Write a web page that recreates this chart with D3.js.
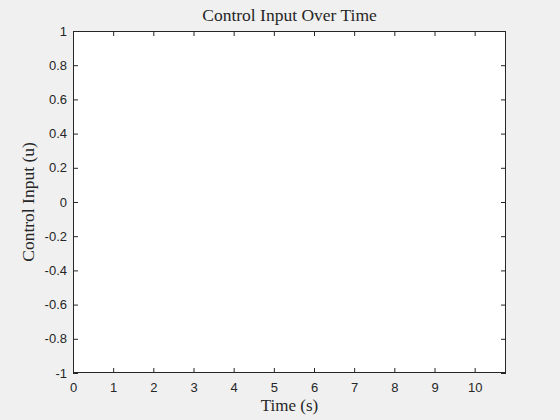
<!DOCTYPE html>
<html>
<head>
<meta charset="utf-8">
<script src="https://cdn.jsdelivr.net/npm/d3@7"></script>
<style>
  body { margin: 0; background: #f0f0f0; }
  svg { display: block; }
  .tick text { font-family: "Liberation Sans", Arial, sans-serif; font-size: 13px; fill: #262626; }
  .lbl { font-family: "Liberation Serif", "DejaVu Serif", serif; fill: #262626; }
</style>
</head>
<body>
<svg id="chart" width="560" height="420"></svg>
<script>
//empty MATLAB-style axes: control input vs time

var xDomain = [0, 10.78];
var yDomain = [-1, 1];
var xTicks = [0, 1, 2, 3, 4, 5, 6, 7, 8, 9, 10];
var yTicks = [-1, -0.8, -0.6, -0.4, -0.2, 0, 0.2, 0.4, 0.6, 0.8, 1];
var titleText = "Control Input Over Time";
var xLabel = "Time (s)";
var yLabel = "Control Input (u)";

var svg = d3.select("#chart");
//plot box edges (note: "top" is taken by window.top)
var pLeft = 73, pRight = 506, pTop = 31, pBottom = 373;
var ink = "#262626";

let xScale = d3.scaleLinear().domain(xDomain).range([pLeft, pRight]);
let yScale = d3.scaleLinear().domain(yDomain).range([pBottom, pTop]);

svg.append("rect")
  .attr("x", pLeft).attr("y", pTop)
  .attr("width", pRight - pLeft).attr("height", pBottom - pTop)
  .attr("fill", "#fff");

let fmt = d => d3.format("")(d).replace("−", "-");

//bottom + left axes carry labels, top + right just ticks
let xAxis = d3.axisBottom(xScale).tickValues(xTicks).tickSizeInner(-5).tickSizeOuter(0).tickPadding(10).tickFormat(fmt);
let yAxis = d3.axisLeft(yScale).tickValues(yTicks).tickSizeInner(-5).tickSizeOuter(0).tickPadding(6).tickFormat(fmt);
let xTop = d3.axisTop(xScale).tickValues(xTicks).tickSizeInner(-5).tickSizeOuter(0).tickFormat("");
let yRight = d3.axisRight(yScale).tickValues(yTicks).tickSizeInner(-5).tickSizeOuter(0).tickFormat("");

function style(g){
  g.select(".domain").remove();
  g.selectAll("line").attr("stroke", ink);
}

svg.append("g").attr("transform", "translate(0," + pBottom + ")").call(xAxis).call(style);
svg.append("g").attr("transform", "translate(" + pLeft + ",0)").call(yAxis).call(style);
svg.append("g").attr("transform", "translate(0," + pTop + ")").call(xTop).call(style);
svg.append("g").attr("transform", "translate(" + pRight + ",0)").call(yRight).call(style);

svg.append("rect")
  .attr("x", pLeft + 0.5).attr("y", pTop + 0.5)
  .attr("width", pRight - pLeft - 1).attr("height", pBottom - pTop - 1)
  .attr("fill", "none").attr("stroke", ink).attr("stroke-width", 1);

svg.append("text").classed("lbl", true)
  .attr("x", (pLeft + pRight) / 2).attr("y", 21)
  .attr("text-anchor", "middle").attr("font-size", 17.5)
  .text(titleText);

svg.append("text").classed("lbl", true)
  .attr("x", (pLeft + pRight) / 2).attr("y", 411)
  .attr("text-anchor", "middle").attr("font-size", 17)
  .text(xLabel);

svg.append("text").classed("lbl", true)
  .attr("transform", "translate(34," + (pTop + pBottom) / 2 + ") rotate(-90)")
  .attr("text-anchor", "middle").attr("font-size", 17.5)
  .text(yLabel);
</script>
</body>
</html>
